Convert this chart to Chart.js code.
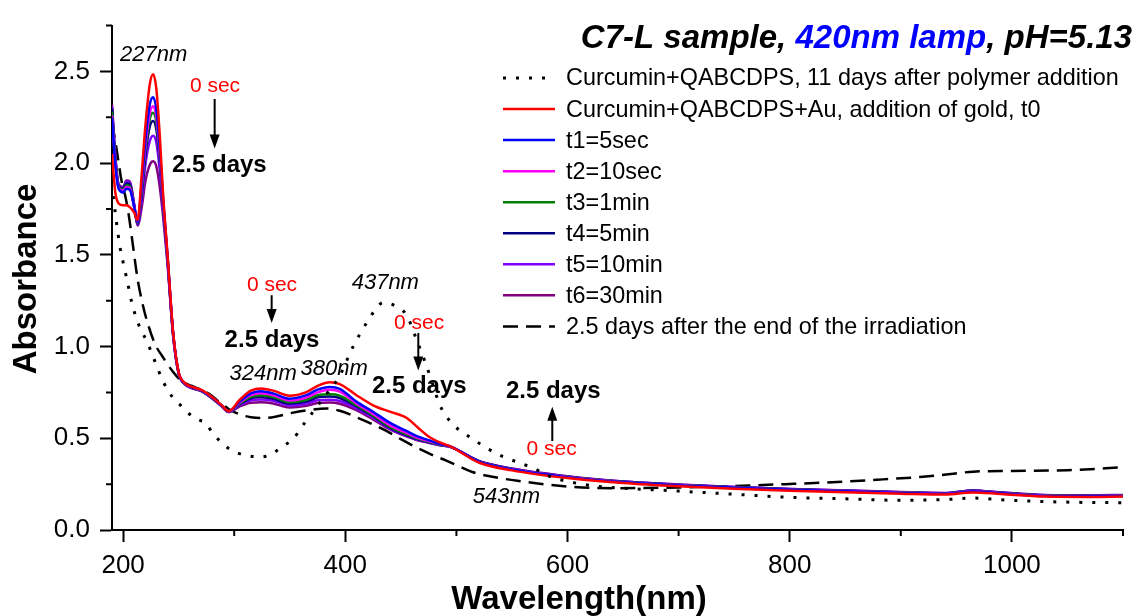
<!DOCTYPE html>
<html>
<head>
<meta charset="utf-8">
<script src="https://cdn.jsdelivr.net/npm/chart.js@4.4.1/dist/chart.umd.min.js"></script>
<style>
  body { margin: 0; background: #fff; }
  #wrap { width: 1137px; height: 616px; }
</style>
</head>
<body>
<div id="wrap"><canvas id="chart" width="1137" height="616"></canvas></div>
<script>
// wavelength grid shared by the irradiation series (nm)
const wlSolid = [190, 193, 196, 200, 203, 206, 210, 213, 217, 220, 224, 227, 230, 233, 236, 240, 245,
  250, 255, 262, 270, 280, 288, 295, 305, 315, 324, 335, 350, 365, 375, 386, 395,
  410, 425, 440, 455, 465, 475, 485, 495, 520, 550, 600, 650, 700, 750, 800, 850, 900,
  940, 965, 990, 1030, 1070, 1100];

const t0 = [2.05, 1.84, 1.78, 1.77, 1.77, 1.76, 1.73, 1.69, 1.96, 2.20, 2.43, 2.485, 2.40, 2.15, 1.83, 1.50, 1.08,
  0.86, 0.805, 0.78, 0.765, 0.725, 0.685, 0.648, 0.71, 0.76, 0.772, 0.76, 0.732, 0.752, 0.785, 0.805, 0.795,
  0.735, 0.68, 0.645, 0.612, 0.56, 0.51, 0.478, 0.455, 0.368, 0.325, 0.283, 0.256, 0.238, 0.225, 0.214, 0.206, 0.198,
  0.193, 0.205, 0.196, 0.182, 0.180, 0.182];
const t1 = [2.25, 1.99, 1.86, 1.84, 1.86, 1.855, 1.76, 1.68, 1.91, 2.12, 2.32, 2.36, 2.29, 2.08, 1.80, 1.49, 1.075,
  0.858, 0.803, 0.778, 0.763, 0.723, 0.683, 0.647, 0.70, 0.745, 0.757, 0.745, 0.716, 0.735, 0.765, 0.78, 0.77,
  0.70, 0.645, 0.585, 0.54, 0.51, 0.49, 0.469, 0.455, 0.372, 0.33, 0.288, 0.26, 0.243, 0.23, 0.219, 0.211, 0.202,
  0.197, 0.21, 0.2, 0.186, 0.184, 0.186];
const t2 = [2.26, 2.0, 1.865, 1.85, 1.87, 1.865, 1.76, 1.678, 1.89, 2.09, 2.27, 2.31, 2.25, 2.05, 1.79, 1.485, 1.072,
  0.857, 0.802, 0.777, 0.762, 0.722, 0.682, 0.646, 0.695, 0.735, 0.745, 0.735, 0.706, 0.722, 0.75, 0.764, 0.755,
  0.69, 0.633, 0.572, 0.53, 0.503, 0.485, 0.467, 0.454, 0.373, 0.331, 0.289, 0.261, 0.244, 0.231, 0.22, 0.212, 0.203,
  0.198, 0.211, 0.201, 0.187, 0.185, 0.187];
const t3 = [2.28, 2.01, 1.87, 1.855, 1.88, 1.875, 1.76, 1.675, 1.87, 2.07, 2.24, 2.275, 2.22, 2.03, 1.78, 1.48, 1.07,
  0.856, 0.801, 0.776, 0.761, 0.721, 0.681, 0.645, 0.69, 0.726, 0.735, 0.725, 0.697, 0.71, 0.735, 0.74, 0.733,
  0.68, 0.625, 0.563, 0.522, 0.498, 0.482, 0.465, 0.453, 0.374, 0.332, 0.29, 0.262, 0.245, 0.232, 0.221, 0.213, 0.204,
  0.199, 0.212, 0.202, 0.188, 0.186, 0.188];
const t4 = [2.30, 2.02, 1.875, 1.86, 1.89, 1.885, 1.765, 1.67, 1.85, 2.04, 2.20, 2.23, 2.18, 2.01, 1.77, 1.475, 1.068,
  0.855, 0.8, 0.775, 0.76, 0.72, 0.68, 0.645, 0.686, 0.718, 0.725, 0.716, 0.689, 0.70, 0.723, 0.728, 0.72,
  0.674, 0.62, 0.558, 0.518, 0.495, 0.48, 0.464, 0.453, 0.375, 0.333, 0.291, 0.263, 0.246, 0.233, 0.222, 0.214, 0.205,
  0.2, 0.214, 0.203, 0.189, 0.187, 0.189];
const t5 = [2.31, 2.03, 1.88, 1.865, 1.90, 1.895, 1.77, 1.665, 1.81, 1.99, 2.12, 2.15, 2.11, 1.96, 1.75, 1.465, 1.065,
  0.854, 0.799, 0.774, 0.759, 0.719, 0.679, 0.644, 0.68, 0.707, 0.712, 0.705, 0.679, 0.69, 0.707, 0.71, 0.703,
  0.664, 0.612, 0.553, 0.514, 0.492, 0.478, 0.463, 0.452, 0.376, 0.334, 0.292, 0.264, 0.247, 0.234, 0.223, 0.215, 0.206,
  0.201, 0.215, 0.204, 0.19, 0.188, 0.19];
const t6 = [2.32, 2.04, 1.885, 1.87, 1.905, 1.90, 1.775, 1.66, 1.77, 1.90, 1.99, 2.01, 1.98, 1.87, 1.71, 1.45, 1.06,
  0.853, 0.798, 0.773, 0.758, 0.718, 0.678, 0.643, 0.674, 0.694, 0.696, 0.69, 0.668, 0.677, 0.692, 0.695, 0.688,
  0.654, 0.603, 0.548, 0.51, 0.489, 0.476, 0.462, 0.452, 0.377, 0.335, 0.293, 0.265, 0.248, 0.235, 0.224, 0.216, 0.207,
  0.202, 0.216, 0.205, 0.191, 0.189, 0.191];

// curcumin + polymer, 11 days (dotted)
const wlPolymer = [191, 194, 197, 200, 204, 208, 214, 222, 229, 236, 245, 253, 262, 268, 274, 281, 288, 294, 303, 312,
  324, 334, 342, 354, 360, 369, 380, 395, 407, 419, 427, 434, 440, 446, 455, 464, 473, 479, 485, 491, 497,
  505, 515, 525, 540, 555, 570, 585, 600, 625, 650, 700, 750, 800, 850, 900, 940, 965, 990, 1030, 1070, 1100];
const polymer = [1.82, 1.68, 1.55, 1.46, 1.35, 1.235, 1.12, 1.02, 0.914, 0.81, 0.72, 0.673, 0.62, 0.60, 0.585, 0.525, 0.48, 0.449, 0.42, 0.405,
  0.398, 0.415, 0.449, 0.503, 0.556, 0.628, 0.717, 0.842, 1.0, 1.128, 1.2, 1.24, 1.235, 1.218, 1.173, 1.04, 0.896, 0.789, 0.682, 0.62, 0.574,
  0.535, 0.495, 0.455, 0.405, 0.37, 0.335, 0.29, 0.265, 0.24, 0.228, 0.212, 0.195, 0.178, 0.17, 0.162, 0.166, 0.174, 0.165, 0.155, 0.15, 0.149];

// 2.5 days after the end of irradiation (dashed)
const wlAfter = [190, 193, 196, 199, 202, 205, 208, 213, 218, 223, 229, 235, 244, 253, 262, 270, 278, 286, 295, 305,
  315, 325, 337, 350, 365, 383, 395, 410, 425, 437, 450, 464, 478, 491, 505, 515, 530, 555, 600, 648, 700, 750,
  800, 850, 884, 920, 945, 965, 1000, 1050, 1100];
const after = [2.22, 2.12, 2.0, 1.89, 1.82, 1.72, 1.59, 1.37, 1.22, 1.11, 1.01, 0.95, 0.87, 0.81, 0.785, 0.765, 0.74, 0.70, 0.66, 0.63,
  0.615, 0.61, 0.618, 0.636, 0.652, 0.663, 0.65, 0.615, 0.575, 0.54, 0.495, 0.45, 0.41, 0.378, 0.34, 0.315, 0.293, 0.268, 0.237, 0.228, 0.232, 0.24,
  0.251, 0.264, 0.276, 0.29, 0.305, 0.318, 0.322, 0.326, 0.342];

const seriesNames = [
  "Curcumin+QABCDPS, 11 days after polymer addition",
  "Curcumin+QABCDPS+Au, addition of gold, t0",
  "t1=5sec", "t2=10sec", "t3=1min", "t4=5min", "t5=10min", "t6=30min",
  "2.5 days after the end of the irradiation"
];
const xTickVals = [200, 400, 600, 800, 1000];
const xMinor = [300, 500, 700, 900, 1100];
const yTickVals = [0, 0.5, 1.0, 1.5, 2.0, 2.5];
const yMinor = [0.25, 0.75, 1.25, 1.75, 2.25, 2.75];

// annotations, in data units
const peakLabels = [["227nm", 227.5, 2.59], ["324nm", 326, 0.85], ["380nm", 390, 0.88], ["437nm", 436, 1.348], ["543nm", 545, 0.18]];
const zeroLabels = [[282.7, 2.42], [334, 1.333], [466.4, 1.128], [585.7, 0.442]];
const dayLabels = [[286.6, 1.99], [334, 1.032], [466.6, 0.785], [587.2, 0.758]];
const arrows = [[282.4, 2.35, 2.08], [333.7, 1.28, 1.128], [465.7, 1.074, 0.869], [586.3, 0.485, 0.672]];

const FONT = '"Liberation Sans", Arial, sans-serif';

const toPoints = (xs, ys) => xs.map((w, i) => ({ x: w, y: ys[i] }));

const solidLine = (label, xs, ys, color) => ({
  label: label,
  data: toPoints(xs, ys),
  borderColor: color,
  borderWidth: 2.5,
  showLine: true,
  pointRadius: 0,
  cubicInterpolationMode: "monotone",
});

const datasets = [
  Object.assign(solidLine(seriesNames[0], wlPolymer, polymer, "#000"), { borderWidth: 3, borderDash: [3, 10] }),
  solidLine(seriesNames[1], wlSolid, t0, "#ff0000"),
  solidLine(seriesNames[2], wlSolid, t1, "#0000ff"),
  solidLine(seriesNames[3], wlSolid, t2, "#ff00ff"),
  solidLine(seriesNames[4], wlSolid, t3, "#008000"),
  solidLine(seriesNames[5], wlSolid, t4, "#000080"),
  solidLine(seriesNames[6], wlSolid, t5, "#8000ff"),
  solidLine(seriesNames[7], wlSolid, t6, "#800080"),
  Object.assign(solidLine(seriesNames[8], wlAfter, after, "#000"), { borderWidth: 2.5, borderDash: [15, 8] }),
];

//draws minor ticks, axis titles, legend, chart title and the arrows / notes
const overlay = {
  id: "overlay",
  afterDraw(chart) {
    const { ctx, chartArea } = chart;
    const px = (v) => chart.scales.x.getPixelForValue(v);
    const py = (v) => chart.scales.y.getPixelForValue(v);
    ctx.save();

    //minor ticks
    ctx.strokeStyle = "#000";
    ctx.lineWidth = 2;
    ctx.beginPath();
    xMinor.forEach((v) => {
      ctx.moveTo(px(v), chartArea.bottom);
      ctx.lineTo(px(v), chartArea.bottom + 6);
    });
    yMinor.forEach((v) => {
      ctx.moveTo(chartArea.left, py(v));
      ctx.lineTo(chartArea.left - 6, py(v));
    });
    ctx.stroke();

    //axis titles
    ctx.fillStyle = "#000";
    ctx.font = `bold 33px ${FONT}`;
    ctx.textAlign = "center";
    ctx.textBaseline = "middle";
    ctx.fillText("Wavelength(nm)", 579, 600);
    ctx.save();
    ctx.translate(27, 279);
    ctx.rotate(-Math.PI / 2);
    ctx.fillText("Absorbance", 0, 0);
    ctx.restore();

    //legend
    ctx.font = `23.4px ${FONT}`;
    ctx.textAlign = "left";
    chart.data.datasets.forEach((ds, i) => {
      const ly = 78 + i * 31.05;
      ctx.strokeStyle = ds.borderColor;
      ctx.lineWidth = ds.borderWidth;
      ctx.setLineDash(ds.borderDash || []);
      ctx.beginPath();
      ctx.moveTo(503, ly);
      ctx.lineTo(555, ly);
      ctx.stroke();
      ctx.fillStyle = "#000";
      ctx.fillText(ds.label, 566, ly + 1);
    });
    ctx.setLineDash([]);

    //title with the blue lamp part
    ctx.font = `italic bold 33px ${FONT}`;
    ctx.textBaseline = "alphabetic";
    const parts = [["C7-L sample, ", "#000"], ["420nm lamp", "#0000ff"], [", pH=5.13", "#000"]];
    let tx = 1132 - parts.reduce((s, p) => s + ctx.measureText(p[0]).width, 0);
    parts.forEach((p) => {
      ctx.fillStyle = p[1];
      ctx.fillText(p[0], tx, 48);
      tx += ctx.measureText(p[0]).width;
    });

    //peak wavelengths
    ctx.textAlign = "center";
    ctx.textBaseline = "middle";
    ctx.fillStyle = "#000";
    ctx.font = `italic 22px ${FONT}`;
    peakLabels.forEach((l) => ctx.fillText(l[0], px(l[1]), py(l[2])));

    ctx.fillStyle = "#ff0000";
    ctx.font = `21px ${FONT}`;
    zeroLabels.forEach((l) => ctx.fillText("0 sec", px(l[0]), py(l[1])));

    ctx.fillStyle = "#000";
    ctx.font = `bold 24px ${FONT}`;
    dayLabels.forEach((l) => ctx.fillText("2.5 days", px(l[0]), py(l[1])));

    //arrows
    arrows.forEach((a) => {
      const x = px(a[0]);
      const y1 = py(a[1]);
      const y2 = py(a[2]);
      const dir = y2 > y1 ? 1 : -1;
      ctx.strokeStyle = "#000";
      ctx.lineWidth = 2;
      ctx.beginPath();
      ctx.moveTo(x, y1);
      ctx.lineTo(x, y2 - dir * 12);
      ctx.stroke();
      ctx.beginPath();
      ctx.moveTo(x - 5, y2 - dir * 14);
      ctx.lineTo(x + 5, y2 - dir * 14);
      ctx.lineTo(x, y2);
      ctx.closePath();
      ctx.fill();
    });

    ctx.restore();
  },
};

new Chart(document.getElementById("chart"), {
  type: "scatter",
  data: { datasets: datasets },
  options: {
    responsive: false,
    animation: false,
    devicePixelRatio: 1,
    layout: { padding: { top: 19, right: 14, left: 0, bottom: 0 } },
    plugins: { legend: { display: false }, tooltip: { enabled: false } },
    scales: {
      x: {
        type: "linear",
        min: 190,
        max: 1100,
        afterFit: (s) => { s.height = 86; },
        afterBuildTicks: (s) => { s.ticks = xTickVals.map((v) => ({ value: v })); },
        border: { display: true, color: "#000", width: 2 },
        grid: { drawOnChartArea: false, drawTicks: true, tickLength: 12, tickWidth: 2, tickColor: "#000" },
        ticks: { color: "#000", padding: 8, font: { family: FONT, size: 26 }, maxRotation: 0, callback: (v) => String(v) },
      },
      y: {
        min: 0,
        max: 2.75,
        afterFit: (s) => { s.width = 112; },
        afterBuildTicks: (s) => { s.ticks = yTickVals.map((v) => ({ value: v })); },
        border: { display: true, color: "#000", width: 2 },
        grid: { drawOnChartArea: false, drawTicks: true, tickLength: 12, tickWidth: 2, tickColor: "#000" },
        ticks: { color: "#000", padding: 10, font: { family: FONT, size: 26 }, callback: (v) => v.toFixed(1) },
      },
    },
  },
  plugins: [overlay],
});
</script>
</body>
</html>
